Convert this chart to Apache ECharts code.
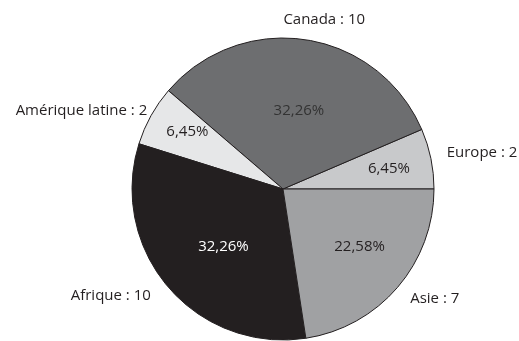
<!DOCTYPE html>
<html>
<head>
<meta charset="utf-8">
<script src="https://cdn.jsdelivr.net/npm/echarts@6/dist/echarts.min.js"></script>
<style>
  html, body { margin: 0; padding: 0; background: #fff; }
  #main { width: 519px; height: 341px; }
</style>
</head>
<body>
<div id="main"></div>
<script>
// données
let regions = ['Europe', 'Canada', 'Amérique latine', 'Afrique', 'Asie'];
let nombres = [2, 10, 2, 10, 7];
let couleurs = ['#c8c9cb', '#6d6e70', '#e6e7e8', '#231f20', '#a0a1a3'];
let couleursTexte = ['#231f20', '#333333', '#231f20', '#ffffff', '#231f20'];
// décalages des étiquettes (intérieur / extérieur)
let decalInt = [[29, -4], [4, -1], [-27, -19], [0, 7], [17, 7]];
let decalExt = [[-9, -4], [-39, -10], [20, 0], [5, 2], [-10, 5]];

let pieData = [];
for (let i = 0; i < regions.length; i++) {
    pieData.push({
        name: regions[i],
        value: nombres[i],
        itemStyle: { color: couleurs[i] },
        label: { color: couleursTexte[i] }
    });
}

let commun = {
    type: 'pie',
    center: [283, 189],
    radius: 151,
    startAngle: 0,
    clockwise: false,
    silent: true,
    animation: false
};

option = {
    textStyle: { fontFamily: 'Open Sans' },
    series: [
        Object.assign({}, commun, {
            data: pieData,
            itemStyle: { borderColor: '#231f20', borderWidth: 1 },
            label: {
                show: true,
                position: 'inside',
                fontSize: 15,
                formatter: function (p) {
                    return p.percent.toFixed(2).replace('.', ',') + '%';
                }
            },
            labelLine: { show: false },
            labelLayout: function (p) {
                let d = decalInt[p.dataIndex];
                return { dx: d[0], dy: d[1] };
            }
        }),
        Object.assign({}, commun, {
            data: regions.map(function (r, i) { return { name: r, value: nombres[i] }; }),
            itemStyle: { color: 'transparent' },
            label: {
                show: true,
                position: 'outside',
                color: '#231f20',
                fontSize: 15,
                overflow: 'none',
                formatter: '{b} : {c}'
            },
            labelLine: { show: false, length: 10, length2: 10 },
            labelLayout: function (p) {
                let d = decalExt[p.dataIndex];
                return { dx: d[0], dy: d[1] };
            }
        })
    ]
};
let myChart = echarts.init(document.getElementById('main'));
myChart.setOption(option);
</script>
</body>
</html>
